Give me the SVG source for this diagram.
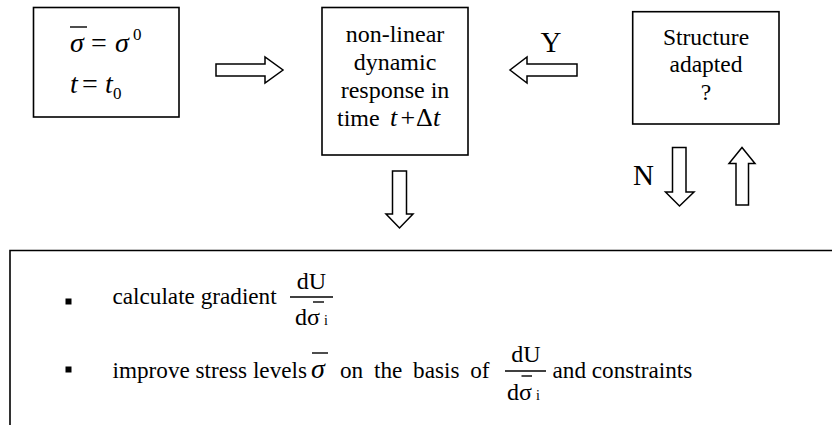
<svg xmlns="http://www.w3.org/2000/svg" width="832" height="425" viewBox="0 0 832 425">
  <style>
    .box { fill: #ffffff; stroke: #000000; stroke-width: 1.6; }
    .arr { fill: #ffffff; stroke: #000000; stroke-width: 1.5; stroke-linejoin: miter; }
    .txt { font-family: "Liberation Serif", "Times New Roman", serif; font-size: 24px; fill: #000000; }
    .body { font-family: "Liberation Serif", "Times New Roman", serif; font-size: 23.2px; fill: #000000; }
    .mid { text-anchor: middle; }
    .math { font-family: "Liberation Serif", "Times New Roman", serif; font-style: italic; font-size: 28px; fill: #000000; }
    .sup { font-family: "Liberation Serif", "Times New Roman", serif; font-size: 17px; fill: #000000; }
    .sub { font-family: "Liberation Serif", "Times New Roman", serif; font-size: 14px; fill: #000000; }
    .bar { stroke: #000000; stroke-width: 1.4; fill: none; }
    .lbl { font-family: "Liberation Serif", "Times New Roman", serif; font-size: 29px; fill: #000000; }
  </style>

  <rect width="832" height="425" fill="#ffffff"/>

  <!-- initial values -->
  <g id="init">
    <rect class="box" x="33.5" y="7.5" width="145.5" height="109.5"/>
    <line class="bar" x1="70" y1="27" x2="87" y2="27"/>
    <text class="math" x="70" y="52">σ</text>
    <text class="txt" x="91" y="52" style="font-size:28px">=</text>
    <text class="math" x="115" y="52">σ</text>
    <text class="sup" x="133" y="40">0</text>
    <text class="math" x="70" y="93">t</text>
    <text class="txt" x="82" y="93" style="font-size:28px">=</text>
    <text class="math" x="105" y="93">t</text>
    <text class="sup" x="113" y="99">0</text>
  </g>

  <!-- dynamic analysis step -->
  <g id="response">
    <rect class="box" x="322" y="7.5" width="146" height="147.5"/>
    <text class="txt mid" x="395" y="42">non-linear</text>
    <text class="txt mid" x="395" y="70">dynamic</text>
    <text class="txt mid" x="395" y="98">response in</text>
    <text class="txt" x="337" y="126">time</text>
    <text class="math" x="390" y="126" style="font-size:26px">t</text>
    <text class="txt" x="400.5" y="126" style="font-size:26px">+</text>
    <text class="txt" x="416" y="126" style="font-size:26px">Δ</text>
    <text class="math" x="433" y="126" style="font-size:26px">t</text>
  </g>

  <!-- decision -->
  <g id="decision">
    <rect class="box" x="632.7" y="11.7" width="146.3" height="112.3"/>
    <text class="txt mid" x="706" y="45" style="font-size:23.5px">Structure</text>
    <text class="txt mid" x="706" y="72" style="font-size:23.5px">adapted</text>
    <text class="txt mid" x="706" y="100" style="font-size:23.5px">?</text>
  </g>

  <!-- optimisation step -->
  <g id="optimise">
    <path class="box" d="M10,425 V250.5 H832" fill="none"/>
    <rect x="65.5" y="298.5" width="6" height="6" fill="#000000"/>
    <text class="body" x="112.5" y="304">calculate gradient</text>
    <text class="txt mid" x="311.5" y="289">dU</text>
    <line class="bar" x1="290" y1="297" x2="333" y2="297"/>
    <text class="txt" x="295" y="325">dσ</text>
    <line class="bar" x1="313" y1="302" x2="324" y2="302"/>
    <text class="sub" x="324" y="325">i</text>

    <rect x="65.5" y="366.5" width="6" height="6" fill="#000000"/>
    <text class="body" x="112.5" y="378">improve stress levels</text>
    <line class="bar" x1="312" y1="353" x2="328" y2="353"/>
    <text class="math" x="311" y="378">σ</text>
    <text class="body" x="340" y="378" style="word-spacing:5px">on the basis of</text>
    <text class="txt mid" x="526" y="362">dU</text>
    <line class="bar" x1="505" y1="371" x2="546" y2="371"/>
    <text class="txt" x="507" y="400">dσ</text>
    <line class="bar" x1="521.5" y1="376" x2="532" y2="376"/>
    <text class="sub" x="536" y="400">i</text>
    <text class="body" x="552.5" y="378">and constraints</text>
  </g>

  <!-- block arrows -->
  <g id="connectors">
    <path class="arr" d="M216,64 H265 V57 L283,70 L265,83 V76 H216 Z"/>
    <path class="arr" d="M577,64 H527 V57 L510,70 L527,83 V76 H577 Z"/>
    <text class="lbl mid" x="551" y="52">Y</text>
    <path class="arr" d="M392.5,171 H406.5 V214 H413 L399.5,228 L386,214 H392.5 Z"/>
    <path class="arr" d="M672.5,147.5 H686 V192 H694 L679.5,206 L665.5,192 H672.5 Z"/>
    <text class="lbl" x="633" y="185">N</text>
    <path class="arr" d="M736,205 V163.5 H729 L742,147.5 L755,163.5 H748.5 V205 Z"/>
  </g>
</svg>
